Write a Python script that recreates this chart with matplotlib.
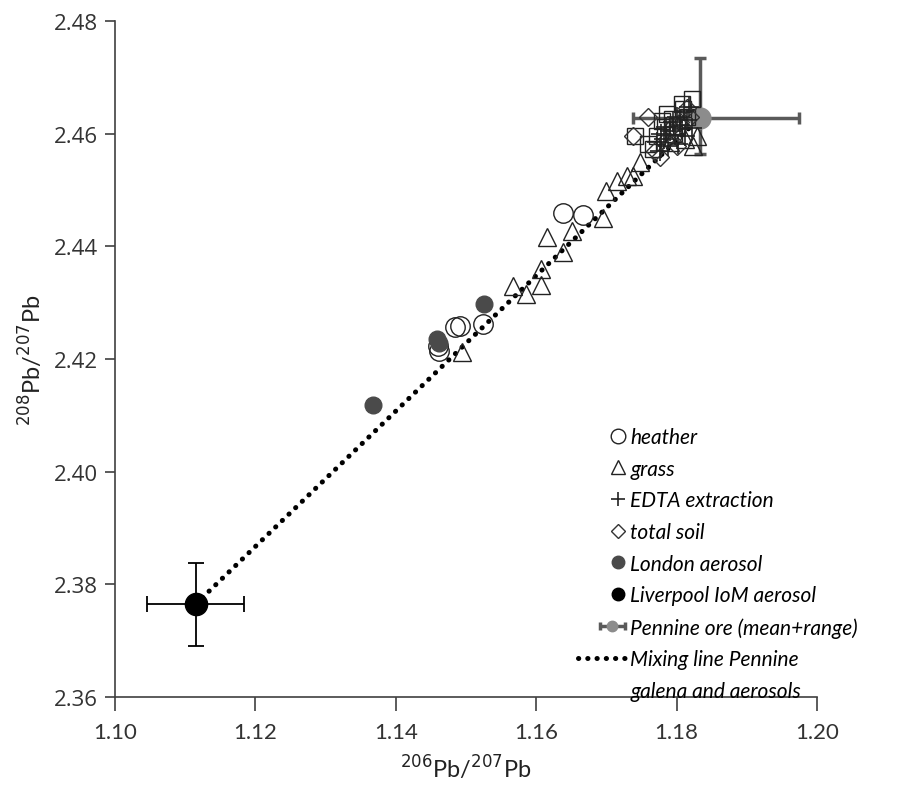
import numpy as np
import matplotlib
matplotlib.use("Agg")
import matplotlib.pyplot as plt
from matplotlib.legend_handler import HandlerLine2D, HandlerErrorbar
from matplotlib.lines import Line2D

# 206Pb/207Pb (x) and 208Pb/207Pb (y)
heather_x = [1.1484, 1.1491, 1.1524, 1.1460, 1.1462, 1.1638, 1.1667]
heather_y = [2.4257, 2.4258, 2.4262, 2.4223, 2.4214, 2.4459, 2.4455]

grass_x = [1.1494, 1.1567, 1.1585, 1.1607, 1.1607, 1.1638, 1.1615, 1.1651, 1.1695,
           1.1699, 1.1715, 1.1729, 1.1738, 1.1748, 1.1829, 1.1823, 1.1790, 1.1812]
grass_y = [2.4212, 2.4330, 2.4315, 2.4331, 2.4360, 2.4390, 2.4416, 2.4427, 2.4450,
           2.4498, 2.4516, 2.4525, 2.4525, 2.4549, 2.4596, 2.4578, 2.4585, 2.4590]

edta_x = [1.1772, 1.1778, 1.1785, 1.1790, 1.1795, 1.1800, 1.1805, 1.1810, 1.1815,
          1.1782, 1.1798, 1.1808, 1.1818, 1.1788, 1.1802, 1.1812, 1.1822, 1.1776]
edta_y = [2.4585, 2.4600, 2.4612, 2.4605, 2.4620, 2.4630, 2.4615, 2.4640, 2.4625,
          2.4590, 2.4598, 2.4608, 2.4648, 2.4578, 2.4582, 2.4595, 2.4610, 2.4570]

square_x = [1.1822, 1.1808, 1.1786, 1.1741, 1.1759, 1.1766, 1.1779, 1.1793, 1.1801,
            1.1809, 1.1783, 1.1772, 1.1815, 1.1797]
square_y = [2.4661, 2.4652, 2.4635, 2.4596, 2.4581, 2.4572, 2.4622, 2.4626, 2.4613,
            2.4643, 2.4612, 2.4596, 2.4630, 2.4600]

soil_x = [1.1759, 1.1738, 1.1776, 1.1769, 1.1819, 1.1815, 1.1786, 1.1801, 1.1792, 1.1805]
soil_y = [2.4629, 2.4596, 2.4558, 2.4569, 2.4629, 2.4645, 2.4590, 2.4578, 2.4610, 2.4620]

london_x = [1.1368, 1.1458, 1.1462, 1.1526]
london_y = [2.4118, 2.4235, 2.4228, 2.4298]

liverpool_x, liverpool_y = 1.1115, 2.3765
liverpool_xerr = [[0.0069], [0.0069]]
liverpool_yerr = [[0.0075], [0.0073]]

pennine_x, pennine_y = 1.1833, 2.4628
pennine_xerr = [[0.0095], [0.0141]]
pennine_yerr = [[0.0064], [0.0106]]


# legend handlers that put the marker at the right end of the handle box
class RightMarker(HandlerLine2D):
    def get_xdata(self, legend, xdescent, ydescent, width, height, fontsize):
        xm = -xdescent + width - 0.5 * fontsize
        return np.array([xm - 1, xm + 1]), np.array([xm])


class RightErrorbar(HandlerErrorbar):
    def get_xdata(self, legend, xdescent, ydescent, width, height, fontsize):
        xm = -xdescent + width - 0.75 * fontsize
        return np.array([xm - 0.6 * fontsize, xm + 0.6 * fontsize]), np.array([xm])

    def get_err_size(self, legend, xdescent, ydescent, width, height, fontsize):
        return 0.6 * fontsize, 0.4 * fontsize


fig = plt.figure(figsize=(9.23, 8.03), dpi=100)
ax = fig.add_axes([115 / 923, 1 - 698 / 803, 702 / 923, 676 / 803])

# mixing line Liverpool aerosol -> Pennine ore
mix, = ax.plot([liverpool_x, pennine_x], [liverpool_y, pennine_y], color='black', lw=3.6,
               linestyle=(0, (0.05, 1.8)), dash_capstyle='round', zorder=1)

h_hea, = ax.plot(heather_x, heather_y, 'o', mfc='none', mec='#222222', ms=14, mew=1.0, zorder=3)
h_gra, = ax.plot(grass_x, grass_y, '^', mfc='none', mec='#222222', ms=13, mew=1.0, zorder=3)
ax.plot(square_x, square_y, 's', mfc='none', mec='#222222', ms=11, mew=1.0, zorder=3)
h_soi, = ax.plot(soil_x, soil_y, 'D', mfc='none', mec='#333333', ms=9, mew=1.0, zorder=3)
h_edt, = ax.plot(edta_x, edta_y, '+', color='#222222', ms=14, mew=1.2, zorder=3)
h_lon, = ax.plot(london_x, london_y, 'o', color='#4a4a4a', ms=12, zorder=4)

ax.errorbar(liverpool_x, liverpool_y, xerr=liverpool_xerr, yerr=liverpool_yerr,
            fmt='o', color='black', ms=16, elinewidth=1.3, capsize=6, capthick=1.3,
            zorder=5)
ax.errorbar(pennine_x, pennine_y, xerr=pennine_xerr, yerr=pennine_yerr,
            fmt='o', color='#8c8c8c', ecolor='#5a5a5a', ms=15, elinewidth=2.5,
            capsize=4, capthick=2.5, zorder=2)

# legend proxies
h_liv, = ax.plot([], [], 'o', color='black', ms=12)
h_pen = ax.errorbar([np.nan], [np.nan], xerr=[[0.001]], fmt='o', color='#8c8c8c',
                    ecolor='#5a5a5a', ms=10, elinewidth=2.5, capsize=3, capthick=2.5)
h_blank = Line2D([], [], linestyle='none', marker='none')

leg_handles = [h_hea, h_gra, h_edt, h_soi, h_lon, h_liv, h_pen, mix, h_blank]
leg_labels = ['heather', 'grass', 'EDTA extraction', 'total soil', 'London aerosol',
              'Liverpool IoM aerosol', 'Pennine ore (mean+range)',
              'Mixing line Pennine', 'galena and aerosols']
hmap = {h: RightMarker(numpoints=1) for h in [h_hea, h_gra, h_edt, h_soi, h_lon, h_liv]}
hmap[h_pen] = RightErrorbar(numpoints=1)
ax.legend(leg_handles, leg_labels, handler_map=hmap, loc='lower left',
          bbox_to_anchor=(578 / 923, 1 - 702 / 803), bbox_transform=fig.transFigure,
          frameon=False, prop={'family': 'Lato', 'style': 'italic', 'size': 15},
          markerscale=0.75, handlelength=2.4, handletextpad=0.1, labelspacing=0.56,
          borderpad=0, borderaxespad=0)

ax.set_xlim(1.10, 1.20)
ax.set_ylim(2.36, 2.48)
ax.set_xticks(np.arange(1.10, 1.2001, 0.02))
ax.set_yticks(np.arange(2.36, 2.4801, 0.02))
ax.xaxis.set_major_formatter(matplotlib.ticker.FormatStrFormatter('%.2f'))
ax.yaxis.set_major_formatter(matplotlib.ticker.FormatStrFormatter('%.2f'))
for s in ['top', 'right']:
    ax.spines[s].set_visible(False)
for s in ['left', 'bottom']:
    ax.spines[s].set_color('#404040')
    ax.spines[s].set_linewidth(1.2)
ax.tick_params(axis='x', length=10, width=1.2, color='#404040', pad=8,
               labelsize=16, labelcolor='#333333')
ax.tick_params(axis='y', length=7, width=1.2, color='#404040', pad=5,
               labelsize=16, labelcolor='#333333')
for t in ax.get_xticklabels():
    t.set_family('Lato')
for t in ax.get_yticklabels():
    t.set_family('Open Sans')

ax.set_xlabel(r'$^{206}$Pb/$^{207}$Pb', fontsize=17, family='Lato',
              color='#222222', labelpad=8)
ax.set_ylabel(r'$^{208}$Pb/$^{207}$Pb', fontsize=17, family='Lato',
              color='#222222', labelpad=6)

fig.savefig('out.png', dpi=100)
